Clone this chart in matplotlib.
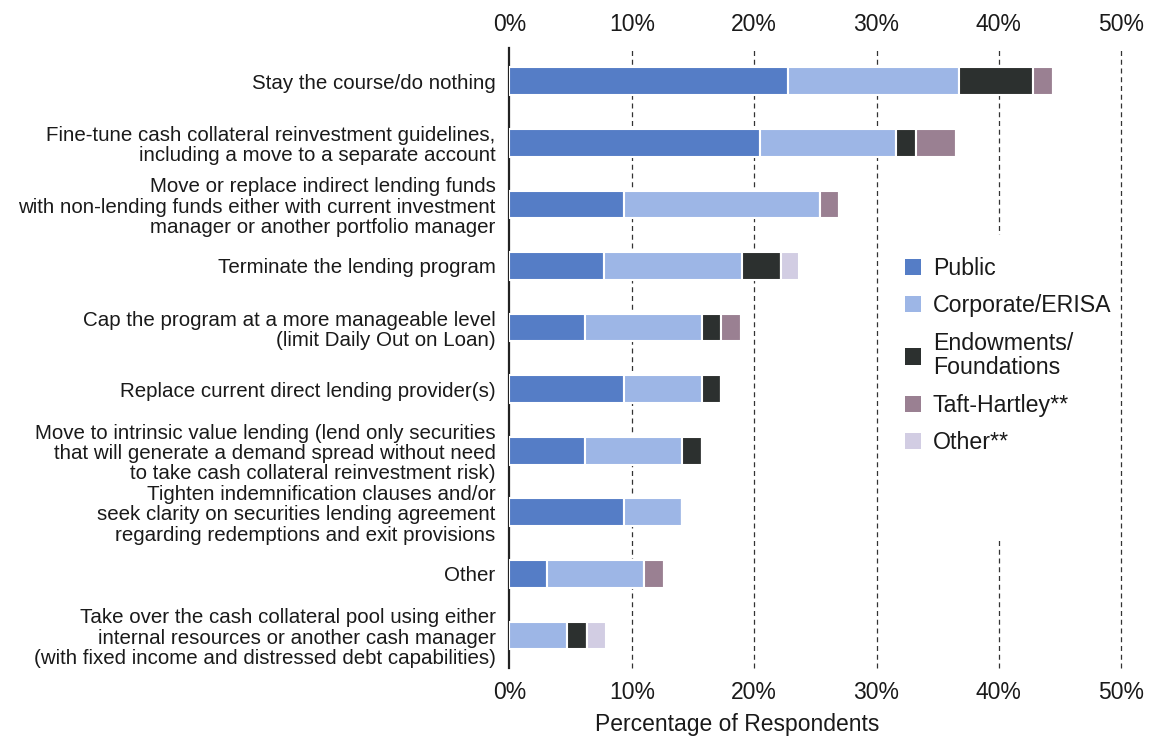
import matplotlib
matplotlib.use("Agg")
import matplotlib.pyplot as plt
import numpy as np
from matplotlib.patches import Patch, Rectangle

matplotlib.rc("font", family=["Liberation Sans", "DejaVu Sans"])

actions = [
    "Stay the course/do nothing",
    "Fine-tune cash collateral reinvestment guidelines,\nincluding a move to a separate account",
    "Move or replace indirect lending funds\nwith non-lending funds either with current investment\nmanager or another portfolio manager",
    "Terminate the lending program",
    "Cap the program at a more manageable level\n(limit Daily Out on Loan)",
    "Replace current direct lending provider(s)",
    "Move to intrinsic value lending (lend only securities\nthat will generate a demand spread without need\nto take cash collateral reinvestment risk)",
    "Tighten indemnification clauses and/or\nseek clarity on securities lending agreement\nregarding redemptions and exit provisions",
    "Other",
    "Take over the cash collateral pool using either\ninternal resources or another cash manager\n(with fixed income and distressed debt capabilities)",
]

public = [22.8, 20.5, 9.4, 7.7, 6.2, 9.4, 6.2, 9.4, 3.1, 0.0]
corporate = [13.9, 11.1, 16.0, 11.3, 9.5, 6.3, 7.9, 4.7, 7.9, 4.7]
endowments = [6.1, 1.6, 0.0, 3.2, 1.6, 1.6, 1.6, 0.0, 0.0, 1.6]
taft_hartley = [1.6, 3.3, 1.5, 0.0, 1.6, 0.0, 0.0, 0.0, 1.6, 0.0]
other = [0.0, 0.0, 0.0, 1.5, 0.0, 0.0, 0.0, 0.0, 0.0, 1.6]

groups = ["Public", "Corporate/ERISA", "Endowments/\nFoundations",
          "Taft-Hartley**", "Other**"]
colors = ["#557dc6", "#9db6e6", "#2c302f", "#9a8092", "#d2cde3"]

fig = plt.figure(figsize=(11.5, 7.39), dpi=100)
ax = fig.add_axes([0.443, 0.096, 0.532, 0.839])

y = np.arange(len(actions))
left = np.zeros(len(actions))
for vals, col in zip([public, corporate, endowments, taft_hartley, other],
                     colors):
    vals = np.array(vals)
    ax.barh(y, vals, left=left, height=0.45, color=col,
            edgecolor="white", linewidth=1.5, zorder=3)
    left += vals

ax.set_xlim(0, 50)
ax.set_ylim(9.53, -0.54)
ax.set_xticks(range(0, 51, 10))
ax.set_xticklabels([f"{t}%" for t in range(0, 51, 10)])
ax.set_yticks(y)
ax.set_yticklabels(actions, fontsize=14.8, linespacing=1.08, color="#1a1a1a")

# dashed guides at every 10%
for t in range(10, 51, 10):
    ax.axvline(t, color="#333333", lw=0.9, ls=(0, (4, 3)), zorder=1,
               clip_on=False)

# white panel behind the legend
ax.add_patch(Rectangle((31.5, 2.5), 17.0, 4.95, transform=ax.transData,
                       fc="white", ec="none", zorder=2))

for s in ["top", "right", "bottom"]:
    ax.spines[s].set_visible(False)
ax.spines["left"].set_linewidth(1.6)
ax.spines["left"].set_color("#222222")
ax.spines["left"].set_zorder(2)

ax.tick_params(axis="y", length=0, pad=10)
ax.tick_params(axis="x", length=0, labelsize=16.5, labeltop=True,
               colors="#1a1a1a", pad=9)
ax.set_xlabel("Percentage of Respondents", fontsize=16.5, color="#1a1a1a")
ax.xaxis.set_label_coords(0.372, -0.073)

handles = [Patch(fc=c, ec="none", label=g) for c, g in zip(colors, groups)]
leg = fig.legend(handles=handles, loc="upper left",
                 bbox_to_anchor=(884 / 1150, 1 - 236 / 739),
                 frameon=False, fontsize=16.7, handlelength=0.7,
                 handleheight=0.7, handletextpad=0.5, labelspacing=0.62,
                 borderpad=0.4)
for txt in leg.get_texts():
    txt.set_linespacing(1.1)
    txt.set_color("#1a1a1a")

fig.savefig("out.png", dpi=100)
